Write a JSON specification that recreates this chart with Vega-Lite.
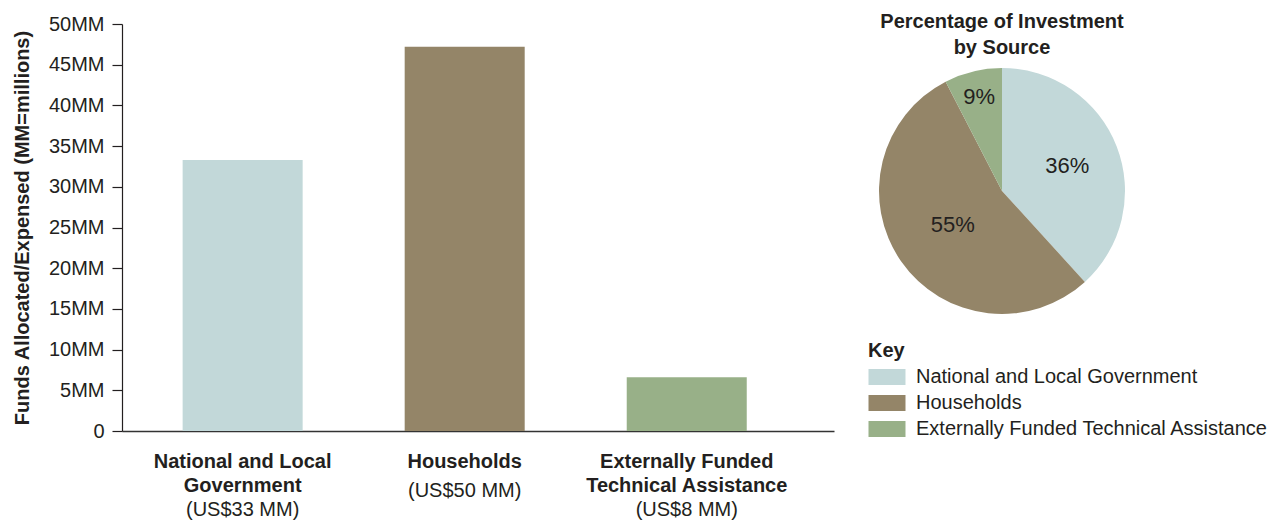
{
  "$schema": "https://vega.github.io/schema/vega-lite/v6.json",
  "padding": {"left": 12, "top": 12, "right": 0, "bottom": 0},
  "background": "white",
  "config": {
    "view": {"stroke": null},
    "font": "Liberation Sans",
    "text": {"color": "#231f20"},
    "axis": {"labelColor": "#231f20", "titleColor": "#231f20", "domainColor": "#231f20", "tickColor": "#231f20", "labelFont": "Liberation Sans", "titleFont": "Liberation Sans"},
    "legend": {"labelColor": "#231f20", "titleColor": "#231f20"},
    "title": {"color": "#231f20"}
  },
  "data": {
    "values": [
      {"source": "National and Local Government", "label": "National and Local|Government", "sub": "(US$33 MM)", "funds": 33.3, "pct": 36, "share": "36%"},
      {"source": "Households", "label": "Households", "sub": "(US$50 MM)", "funds": 47.2, "pct": 55, "share": "55%"},
      {"source": "Externally Funded Technical Assistance", "label": "Externally Funded|Technical Assistance", "sub": "(US$8 MM)", "funds": 6.6, "pct": 9, "share": "9%"}
    ]
  },
  "resolve": {"scale": {"color": "independent"}, "legend": {"color": "independent"}},
  "spacing": 34,
  "hconcat": [
    {
      "width": 712,
      "height": 407,
      "encoding": {
        "x": {
          "field": "label", "type": "nominal", "sort": null,
          "scale": {"paddingInner": 0.4595, "paddingOuter": 0.333, "align": 0.41},
          "axis": {"title": null, "ticks": false, "labelAngle": 0, "labelExpr": "split(datum.label, '|')", "labelFontWeight": "bold", "labelFontSize": 20, "labelLineHeight": 24, "labelPadding": 20, "labelLimit": 0, "domainWidth": 1.5, "domainColor": "#333333"}
        }
      },
      "layer": [
        {
          "mark": {"type": "bar"},
          "encoding": {
            "y": {
              "field": "funds", "type": "quantitative",
              "scale": {"domain": [0, 50]},
              "axis": {"values": [0, 5, 10, 15, 20, 25, 30, 35, 40, 45, 50], "labelExpr": "datum.value === 0 ? '0' : datum.value + 'MM'", "grid": false, "tickSize": 10, "labelPadding": 8, "labelFontSize": 20, "title": "Funds Allocated/Expensed (MM=millions)", "titleFontSize": 20, "titleFontWeight": "bold", "titlePadding": 16, "domainWidth": 1.2, "tickWidth": 1.2}
            },
            "color": {
              "field": "source", "type": "nominal", "legend": null,
              "scale": {"domain": ["National and Local Government", "Households", "Externally Funded Technical Assistance"], "range": ["#c2d8d9", "#948568", "#98b088"]}
            }
          }
        },
        {
          "transform": [{"filter": "indexof(datum.label, '|') >= 0"}],
          "mark": {"type": "text", "fontSize": 20, "baseline": "middle", "dy": 79},
          "encoding": {"y": {"datum": 0, "type": "quantitative"}, "text": {"field": "sub"}}
        },
        {
          "transform": [{"filter": "indexof(datum.label, '|') < 0"}],
          "mark": {"type": "text", "fontSize": 20, "baseline": "middle", "dy": 60},
          "encoding": {"y": {"datum": 0, "type": "quantitative"}, "text": {"field": "sub"}}
        }
      ]
    },
    {
      "width": 268,
      "height": 334,
      "title": {"text": ["Percentage of Investment", "by Source"], "fontSize": 20, "fontWeight": "bold", "lineHeight": 26, "anchor": "middle", "offset": -34},
      "encoding": {
        "theta": {"field": "funds", "type": "quantitative", "stack": true},
        "order": {"field": "source", "type": "ordinal", "sort": "descending"}
      },
      "layer": [
        {
          "mark": {"type": "arc", "outerRadius": 123},
          "encoding": {
            "color": {
              "field": "source", "type": "nominal",
              "scale": {"domain": ["National and Local Government", "Households", "Externally Funded Technical Assistance"], "range": ["#c2d8d9", "#948568", "#98b088"]},
              "legend": {"title": "Key", "orient": "bottom", "direction": "vertical", "titleFontSize": 20, "titleFontWeight": "bold", "titlePadding": 3, "labelFontSize": 20, "labelLimit": 0, "symbolType": "M-1.423,-0.615L1.423,-0.615L1.423,0.615L-1.423,0.615Z", "symbolSize": 676, "symbolStrokeWidth": 0, "symbolOffset": 6, "labelOffset": 16, "rowPadding": 3, "offset": -17, "padding": 0}
            }
          }
        },
        {
          "mark": {"type": "text", "fontSize": 22, "radius": 70},
          "encoding": {
            "text": {"condition": {"test": "datum.source !== 'National and Local Government'", "value": ""}, "field": "share"}
          }
        },
        {
          "mark": {"type": "text", "fontSize": 22, "radius": 60},
          "encoding": {
            "text": {"condition": {"test": "datum.source !== 'Households'", "value": ""}, "field": "share"}
          }
        },
        {
          "mark": {"type": "text", "fontSize": 22, "radius": 97},
          "encoding": {
            "text": {"condition": {"test": "datum.source !== 'Externally Funded Technical Assistance'", "value": ""}, "field": "share"}
          }
        }
      ]
    }
  ]
}
